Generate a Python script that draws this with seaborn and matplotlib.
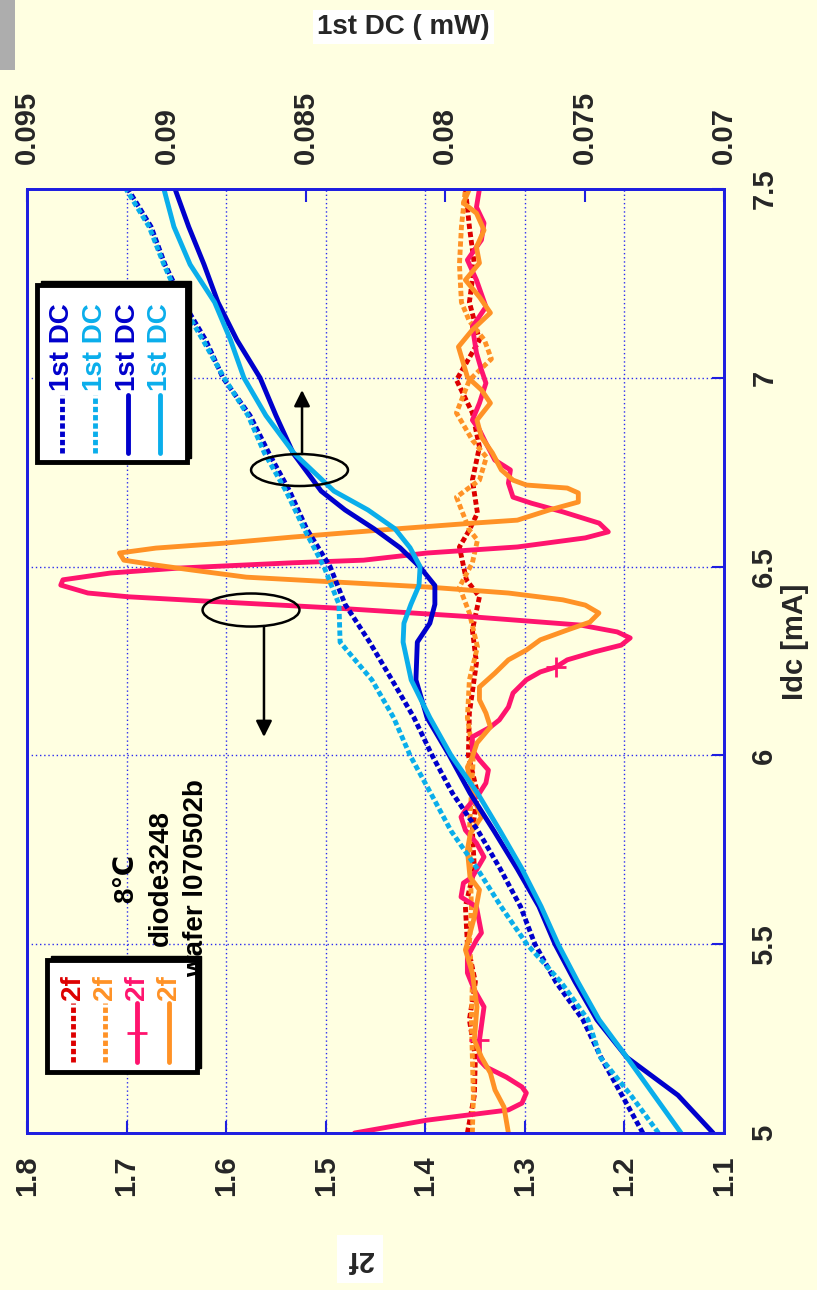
import matplotlib
matplotlib.use("Agg")
import matplotlib.pyplot as plt
from matplotlib.patches import Rectangle, Ellipse
from matplotlib.lines import Line2D
import seaborn as sns

sns.set_style("white")
plt.rcParams["font.family"] = ["Liberation Sans", "DejaVu Sans"]
plt.rcParams["font.weight"] = "bold"
plt.rcParams["axes.labelweight"] = "bold"

# ---------------- data ----------------
# 1st DC (mW) dotted traces, sampled every 0.1 mA of Idc
idc_grid = [5.0, 5.1, 5.2, 5.3, 5.4, 5.5, 5.6, 5.7, 5.8, 5.9, 6.0, 6.1, 6.2,
            6.3, 6.4, 6.5, 6.6, 6.7, 6.8, 6.9, 7.0, 7.1, 7.2, 7.3, 7.4, 7.5]
dc_dark_dotted = [0.07291, 0.07366, 0.07441, 0.07506, 0.07603, 0.07678, 0.07730,
                  0.07803, 0.07882, 0.07974, 0.08047, 0.08112, 0.08191, 0.08271,
                  0.08359, 0.08413, 0.08497, 0.08558, 0.08632, 0.08700, 0.08797,
                  0.08859, 0.08940, 0.09005, 0.09055, 0.09138]
dc_light_dotted = [0.07235, 0.07334, 0.07443, 0.07488, 0.07585, 0.07707, 0.07800,
                   0.07885, 0.07979, 0.08052, 0.08126, 0.08185, 0.08263, 0.08377,
                   0.08381, 0.08435, 0.08506, 0.08571, 0.08648, 0.08707, 0.08793,
                   0.08869, 0.08948, 0.09009, 0.09062, 0.09145]

# 1st DC (mW) solid traces, finer sampling around the kink near 6.4 mA
idc_solid = [5.0, 5.1, 5.2, 5.3, 5.4, 5.5, 5.6, 5.7, 5.8, 5.9, 6.0, 6.1, 6.2,
             6.3, 6.35, 6.4, 6.45, 6.5, 6.55, 6.6, 6.65, 6.7, 6.8, 6.9, 7.0,
             7.1, 7.2, 7.3, 7.4, 7.5]
dc_dark_solid = [0.07039, 0.07165, 0.07348, 0.07456, 0.07534, 0.07606, 0.07664,
                 0.07742, 0.07825, 0.07911, 0.07985, 0.08065, 0.08105, 0.08100,
                 0.08055, 0.08037, 0.08037, 0.08092, 0.08162, 0.08255, 0.08359,
                 0.08445, 0.08545, 0.08607, 0.08664, 0.08747, 0.08815, 0.08865,
                 0.08920, 0.08969]
dc_light_solid = [0.07154, 0.07251, 0.07348, 0.07448, 0.07524, 0.07595, 0.07656,
                  0.07725, 0.07803, 0.07884, 0.07979, 0.08055, 0.08122, 0.08151,
                  0.08148, 0.08123, 0.08094, 0.08090, 0.08126, 0.08180, 0.08277,
                  0.08399, 0.08542, 0.08643, 0.08722, 0.08770, 0.08827, 0.08915,
                  0.08973, 0.09009]

# 2f traces
f2_red_idc = [5.0, 5.1, 5.2, 5.3, 5.4, 5.5, 5.6, 5.7, 5.8, 5.9, 6.0, 6.112, 6.245,
              6.332, 6.42, 6.465, 6.552, 6.597, 6.642, 6.729, 6.817, 6.907, 6.994,
              7.1, 7.2, 7.3, 7.4, 7.5]
f2_red = [1.3577, 1.3507, 1.3497, 1.3557, 1.3497, 1.3577, 1.3597, 1.3507, 1.3527,
          1.3476, 1.3567, 1.3557, 1.3486, 1.3527, 1.3456, 1.3587, 1.3657, 1.3557,
          1.3476, 1.3527, 1.3456, 1.3527, 1.3687, 1.3456, 1.3557, 1.3507, 1.3557,
          1.3597]

f2_orange_dot_idc = [5.0, 5.1, 5.2, 5.3, 5.4, 5.5, 5.6, 5.7, 5.8, 5.9, 6.0, 6.1, 6.2,
                     6.287, 6.377, 6.446, 6.51, 6.57, 6.597, 6.684, 6.729, 6.79, 6.835,
                     6.907, 6.994, 7.05, 7.1, 7.15, 7.2, 7.3, 7.4, 7.5]
f2_orange_dot = [1.3527, 1.3517, 1.3527, 1.3537, 1.3527, 1.3557, 1.3537, 1.3547,
                 1.3557, 1.3537, 1.3517, 1.3577, 1.3557, 1.3476, 1.3557, 1.3657,
                 1.3527, 1.3476, 1.3557, 1.3687, 1.3456, 1.3386, 1.3527, 1.3687,
                 1.3557, 1.3336, 1.3406, 1.3557, 1.3637, 1.3657, 1.3637, 1.3597]

f2_pink_idc = [5.000, 5.034, 5.061, 5.079, 5.106, 5.122, 5.148, 5.175, 5.193, 5.246,
               5.334, 5.379, 5.424, 5.466, 5.511, 5.530, 5.599, 5.625, 5.662, 5.678,
               5.731, 5.768, 5.802, 5.837, 5.863, 5.900, 5.927, 5.961, 5.988, 6.014,
               6.049, 6.075, 6.094, 6.128, 6.165, 6.200, 6.221, 6.234, 6.253, 6.274,
               6.292, 6.311, 6.327, 6.345, 6.367, 6.390, 6.406, 6.420, 6.430, 6.451,
               6.465, 6.483, 6.496, 6.510, 6.517, 6.536, 6.552, 6.576, 6.592, 6.615,
               6.645, 6.668, 6.684, 6.721, 6.756, 6.782, 6.827, 6.862, 6.888, 6.933,
               6.986, 7.021, 7.066, 7.135, 7.188, 7.259, 7.312, 7.365, 7.410, 7.452,
               7.500]
f2_pink = [1.4710, 1.3982, 1.3165, 1.3029, 1.2985, 1.3029, 1.3186, 1.3391, 1.3456,
           1.3456, 1.3410, 1.3507, 1.3577, 1.3577, 1.3486, 1.3436, 1.3486, 1.3641,
           1.3617, 1.3527, 1.3410, 1.3486, 1.3597, 1.3641, 1.3577, 1.3456, 1.3391,
           1.3366, 1.3456, 1.3527, 1.3527, 1.3346, 1.3256, 1.3165, 1.3119, 1.2985,
           1.2845, 1.2687, 1.2574, 1.2303, 1.2032, 1.1942, 1.2072, 1.2437, 1.3527,
           1.4891, 1.6024, 1.6980, 1.7388, 1.7661, 1.7639, 1.7161, 1.6480, 1.5342,
           1.4620, 1.3982, 1.3075, 1.2393, 1.2162, 1.2253, 1.2619, 1.2935, 1.3119,
           1.3165, 1.3145, 1.3301, 1.3391, 1.3456, 1.3527, 1.3456, 1.3391, 1.3436,
           1.3486, 1.3527, 1.3391, 1.3486, 1.3577, 1.3436, 1.3410, 1.3486, 1.3456]
f2_pink_marker_idx = [9, 37]

f2_orange_idc = [5.000, 5.069, 5.114, 5.159, 5.201, 5.246, 5.334, 5.424, 5.485, 5.503,
                 5.572, 5.644, 5.678, 5.749, 5.794, 5.837, 5.882, 5.927, 5.969, 5.996,
                 6.033, 6.075, 6.112, 6.147, 6.181, 6.218, 6.253, 6.279, 6.306, 6.332,
                 6.353, 6.377, 6.398, 6.412, 6.430, 6.446, 6.459, 6.472, 6.491, 6.504,
                 6.517, 6.536, 6.549, 6.562, 6.578, 6.597, 6.615, 6.623, 6.650, 6.671,
                 6.695, 6.708, 6.716, 6.729, 6.756, 6.801, 6.843, 6.888, 6.933, 6.968,
                 7.002, 7.082, 7.127, 7.172, 7.214, 7.259, 7.304, 7.346, 7.391, 7.436,
                 7.463, 7.500]
f2_orange = [1.3165, 1.3210, 1.3300, 1.3346, 1.3436, 1.3507, 1.3481, 1.3527, 1.3597,
             1.3577, 1.3507, 1.3456, 1.3551, 1.3577, 1.3547, 1.3436, 1.3507, 1.3547,
             1.3577, 1.3527, 1.3481, 1.3346, 1.3391, 1.3456, 1.3456, 1.3300, 1.3165,
             1.2985, 1.2845, 1.2574, 1.2347, 1.2256, 1.2393, 1.2619, 1.3165, 1.3982,
             1.4891, 1.5798, 1.6345, 1.6706, 1.7027, 1.7071, 1.6706, 1.6024, 1.5342,
             1.4439, 1.3527, 1.3075, 1.2754, 1.2463, 1.2463, 1.2574, 1.2985, 1.3119,
             1.3236, 1.3326, 1.3436, 1.3481, 1.3346, 1.3436, 1.3577, 1.3667, 1.3527,
             1.3346, 1.3456, 1.3597, 1.3456, 1.3486, 1.3410, 1.3486, 1.3617, 1.3557]

idc_ticks = [5.0, 5.5, 6.0, 6.5, 7.0, 7.5]
idc_tick_labels = ["5", "5.5", "6", "6.5", "7", "7.5"]
f2_ticks = [1.1, 1.2, 1.3, 1.4, 1.5, 1.6, 1.7, 1.8]
f2_tick_labels = ["1.1", "1.2", "1.3", "1.4", "1.5", "1.6", "1.7", "1.8"]
dc_ticks = [0.07, 0.075, 0.08, 0.085, 0.09, 0.095]
dc_tick_labels = ["0.07", "0.075", "0.08", "0.085", "0.09", "0.095"]

legend_dc = ["1st DC", "1st DC", "1st DC", "1st DC"]
legend_2f = ["2f", "2f", "2f", "2f"]
notes = ["8\u2103", "diode3248", "wafer l070502b"]

# ---------------- styling ----------------
BG = "#FFFFE1"
AXBLUE = "#1E1EE0"
DARK = "#0000CC"
LIGHT = "#0AAEEB"
RED = "#DD0000"
ORANGE = "#FF9226"
PINK = "#FF146E"
DOT = (0, (1.1, 0.6))
LW = 3.5

fig = plt.figure(figsize=(8.17, 12.9), dpi=100)
fig.patch.set_facecolor(BG)
ax = fig.add_axes([0.03305, 0.12171, 0.8531, 0.73178])
ax.set_facecolor(BG)

# 2f traces on the main axes (Idc runs vertically)
common = dict(ax=ax, orient="y", sort=False, estimator=None, linewidth=LW)
sns.lineplot(x=f2_red, y=f2_red_idc, color=RED, linestyle=DOT,
             dash_capstyle="butt", **common)
sns.lineplot(x=f2_orange_dot, y=f2_orange_dot_idc, color=ORANGE, linestyle=DOT,
             dash_capstyle="butt", **common)
sns.lineplot(x=f2_pink, y=f2_pink_idc, color=PINK, marker="+", markersize=14,
             markeredgewidth=2, markeredgecolor=PINK,
             markevery=f2_pink_marker_idx, **common)
sns.lineplot(x=f2_orange, y=f2_orange_idc, color=ORANGE, **common)

ax.set_xlim(1.8, 1.1)
ax.set_ylim(5.0, 7.5)

# 1st DC traces on a twin axis with its scale along the top
ax2 = ax.twiny()
common2 = dict(ax=ax2, orient="y", sort=False, estimator=None, linewidth=LW)
sns.lineplot(x=dc_dark_dotted, y=idc_grid, color=DARK, linestyle=DOT,
             dash_capstyle="butt", **common2)
sns.lineplot(x=dc_light_dotted, y=idc_grid, color=LIGHT, linestyle=DOT,
             dash_capstyle="butt", **common2)
sns.lineplot(x=dc_dark_solid, y=idc_solid, color=DARK, **common2)
sns.lineplot(x=dc_light_solid, y=idc_solid, color=LIGHT, **common2)
ax2.set_xlim(0.095, 0.07)
ax.set_ylim(5.0, 7.5)

# grid, spines and ticks
ax.grid(True, color="#2A2AF0", linestyle=(0, (1, 2)), linewidth=1.0)
ax.set_axisbelow(True)
ax2.grid(False)
for a in (ax, ax2):
    for s in a.spines.values():
        s.set_color(AXBLUE)
        s.set_linewidth(2)

ax.set_xticks(f2_ticks)
ax.set_xticklabels(f2_tick_labels)
ax.yaxis.tick_right()
ax.set_yticks(idc_ticks)
ax.set_yticklabels(idc_tick_labels)
ax.tick_params(axis="x", direction="in", length=9, width=1.5, color=AXBLUE,
               labelsize=21, labelrotation=90, pad=16)
ax.tick_params(axis="y", direction="in", length=9, width=1.5, color=AXBLUE,
               labelsize=21, labelrotation=90, pad=19, left=False, right=True)
for lbl in ax.get_yticklabels():
    lbl.set_va("center")

ax2.set_xticks(dc_ticks)
ax2.set_xticklabels(dc_tick_labels)
ax2.tick_params(axis="x", direction="in", length=9, width=1.5, color=AXBLUE,
                labelsize=21, labelrotation=90, pad=18)

# axis titles
ax.set_ylabel("Idc [mA]", fontsize=21, fontweight="bold")
ax.yaxis.set_label_position("right")
ylab = ax.yaxis.label
ylab.set_rotation(90)
ylab.set_rotation_mode("default")
ylab.set_ha("center")
ylab.set_va("center")
ax.yaxis.set_label_coords(1.1019, 0.52)

ax.set_xlabel("2f", fontsize=21, fontweight="bold", rotation=180,
              bbox=dict(boxstyle="square,pad=0.35", fc="white", ec="none"))
ax.xaxis.label.set_va("center")
ax.xaxis.set_label_coords(0.478, -0.1335)

ax2.set_xlabel("1st DC ( mW)", fontsize=20, fontweight="bold",
               bbox=dict(boxstyle="square,pad=0.15", fc="white", ec="none"))
ax2.xaxis.label.set_va("center")
ax2.xaxis.set_label_coords(0.5395, 1.1716)


# legend boxes drawn as vertical entries
def legend_box(a, x0, y0, x1, y1):
    sx, sy = 4 / 697, 4 / 944
    a.add_patch(Rectangle((x0 + sx, y0 + sy), x1 - x0, y1 - y0,
                          transform=a.transAxes, fc="black", ec="black",
                          lw=1, zorder=20, clip_on=False))
    a.add_patch(Rectangle((x0, y0), x1 - x0, y1 - y0, transform=a.transAxes,
                          fc="white", ec="black", lw=3.5, zorder=21,
                          clip_on=False))


def legend_entry(a, x, label, color, ytext, yl0, yl1, style, marker=None):
    a.text(x, ytext, label, rotation=90, ha="center", va="bottom",
           color=color, fontsize=20, fontweight="bold",
           transform=a.transAxes, zorder=23)
    a.add_line(Line2D([x, x], [yl0, yl1], transform=a.transAxes, color=color,
                      lw=LW, linestyle=style, dash_capstyle="butt", zorder=23))
    if marker:
        a.add_line(Line2D([x], [(yl0 + yl1) / 2], transform=a.transAxes,
                          color=color, marker=marker, markersize=14,
                          markeredgewidth=2, linestyle="none", zorder=24))


legend_box(ax2, 0.01435, 0.7108, 0.2296, 0.8983)
dc_colors = [DARK, LIGHT, DARK, LIGHT]
dc_styles = [DOT, DOT, "-", "-"]
for xpos, lab, col, sty in zip([0.0498, 0.0976, 0.1445, 0.1908], legend_dc,
                               dc_colors, dc_styles):
    legend_entry(ax2, xpos, lab, col, 0.786, 0.7203, 0.7818, sty)

legend_box(ax2, 0.0287, 0.0646, 0.2439, 0.1833)
f2_colors = [RED, ORANGE, PINK, ORANGE]
f2_styles = [DOT, DOT, "-", "-"]
f2_markers = [None, None, "+", None]
for xpos, lab, col, sty, mk in zip([0.0656, 0.1119, 0.1574, 0.2042], legend_2f,
                                   f2_colors, f2_styles, f2_markers):
    legend_entry(ax2, xpos, lab, col, 0.141, 0.0752, 0.1377, sty, mk)

# sample notes, drawn above the legend frame
for xpos, txt in zip([0.142, 0.192, 0.2425], notes):
    ax2.text(xpos, 0.270, txt, rotation=90, ha="center", va="center",
             fontsize=20, fontweight="bold", color="black",
             transform=ax2.transAxes, zorder=30)

# ellipses with arrows pointing to the relevant scale
ax2.add_patch(Ellipse((0.391, 0.7023), 0.139, 0.0339, transform=ax2.transAxes,
                      fill=False, ec="black", lw=1.8, zorder=18))
ax2.annotate("", xy=(0.3946, 0.787), xytext=(0.3946, 0.7193),
             xycoords="axes fraction", textcoords="axes fraction",
             arrowprops=dict(arrowstyle="-|>", color="black", lw=1.8,
                             mutation_scale=24, shrinkA=0, shrinkB=0),
             zorder=18)
ax2.add_patch(Ellipse((0.3214, 0.554), 0.139, 0.035, transform=ax2.transAxes,
                      fill=False, ec="black", lw=1.8, zorder=18))
ax2.annotate("", xy=(0.340, 0.4195), xytext=(0.340, 0.537),
             xycoords="axes fraction", textcoords="axes fraction",
             arrowprops=dict(arrowstyle="-|>", color="black", lw=1.8,
                             mutation_scale=24, shrinkA=0, shrinkB=0),
             zorder=18)

# grey tab in the top-left corner
fig.add_artist(Rectangle((0, 1 - 70 / 1290), 15 / 817, 70 / 1290,
                         transform=fig.transFigure, color="#ADADAD", lw=0))

fig.savefig("out.png", dpi=100, facecolor=BG)
